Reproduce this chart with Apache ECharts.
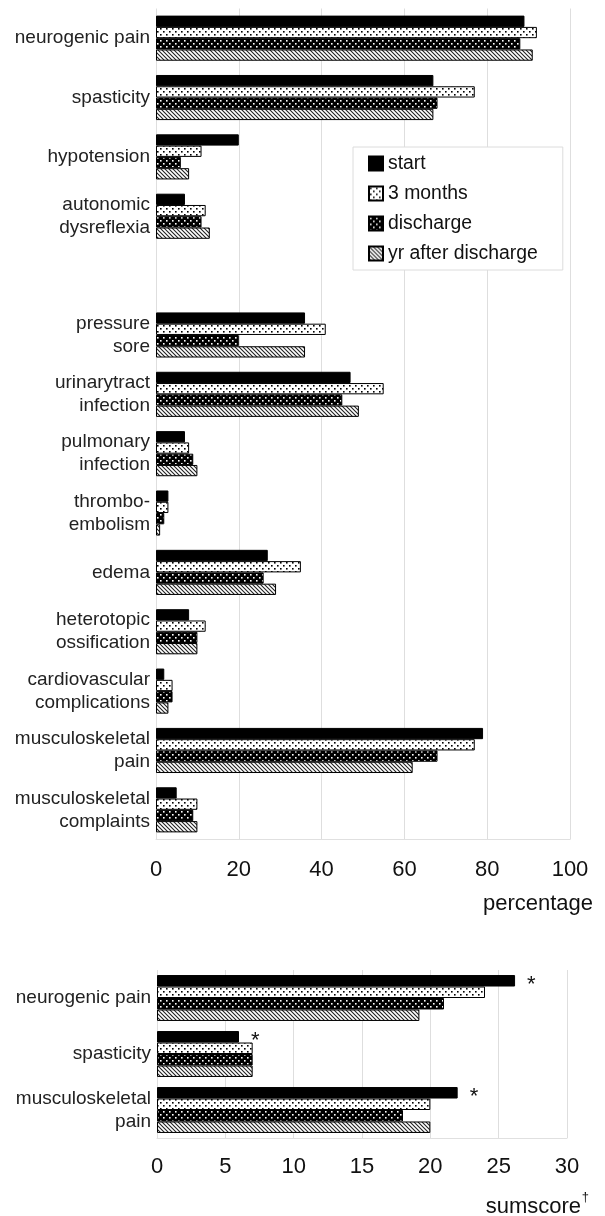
<!DOCTYPE html>
<html><head><meta charset="utf-8">
<script src="https://cdn.jsdelivr.net/npm/echarts@6/dist/echarts.min.js"></script>
<style>html,body{margin:0;padding:0;background:#fff}#c{width:605px;height:1216px}</style>
</head><body><div id="c"></div>
<script>
// ---- data ----
const topCategories = ['neurogenic pain','spasticity','hypotension','autonomic\ndysreflexia','',
  'pressure\nsore','urinarytract\ninfection','pulmonary\ninfection','thrombo-\nembolism','edema',
  'heterotopic\nossification','cardiovascular\ncomplications','musculoskeletal\npain','musculoskeletal\ncomplaints'];
const topStart     = [89, 67, 20, 7, null, 36, 47, 7, 3, 27, 8, 2, 79, 5];
const top3Months   = [92, 77, 11, 12, null, 41, 55, 8, 3, 35, 12, 4, 77, 10];
const topDischarge = [88, 68, 6, 11, null, 20, 45, 9, 2, 26, 10, 4, 68, 9];
const topYearAfter = [91, 67, 8, 13, null, 36, 49, 10, 1, 29, 10, 3, 62, 10];
const topTicks = [0, 20, 40, 60, 80, 100];

const botCategories = ['neurogenic pain','spasticity','musculoskeletal\npain'];
const botStart     = [26.2, 6, 22];
const bot3Months   = [24, 7, 20];
const botDischarge = [21, 7, 18];
const botYearAfter = [19.2, 7, 20];
const botTicks = [0, 5, 10, 15, 20, 25, 30];
const botMarks = ['*', '*', '*'];

const seriesNames = ['start', '3 months', 'discharge', 'yr after discharge'];

// ---- patterns ----
function dotPattern(bg, fg) {
  const c = document.createElement('canvas'); c.width = 6; c.height = 6;
  const g = c.getContext('2d');
  g.fillStyle = bg; g.fillRect(0, 0, 6, 6);
  g.fillStyle = fg;
  g.fillRect(1, 1, 1.6, 1.6); g.fillRect(4, 4, 1.6, 1.6);
  return {image: c, repeat: 'repeat'};
}
function hatchPattern() {
  const c = document.createElement('canvas'); c.width = 4; c.height = 4;
  const g = c.getContext('2d');
  g.fillStyle = '#fff'; g.fillRect(0, 0, 4, 4);
  g.strokeStyle = '#222'; g.lineWidth = 1.1;
  g.beginPath();
  g.moveTo(-1, -1); g.lineTo(5, 5);
  g.moveTo(3, -1); g.lineTo(5, 1);
  g.moveTo(-1, 3); g.lineTo(1, 5);
  g.stroke();
  return {image: c, repeat: 'repeat'};
}
const fills = ['#000', dotPattern('#fff', '#000'), dotPattern('#000', '#fff'), hatchPattern()];

const font = 'Liberation Sans, Arial, sans-serif';
const chart = echarts.init(document.getElementById('c'), null, {renderer: 'canvas'});

function mkSeries(gridIdx, datas, catGap, withMarks) {
  return datas.map((d, i) => ({
    name: seriesNames[i], type: 'bar', xAxisIndex: gridIdx, yAxisIndex: gridIdx,
    data: d, barGap: '0%', barCategoryGap: catGap,
    itemStyle: {color: fills[i], borderColor: '#000', borderWidth: 1},
    label: (withMarks && i === 0) ? {show: true, position: 'right', distance: 12,
      formatter: p => botMarks[p.dataIndex], fontSize: 22, fontFamily: font, color: '#111', offset: [0, 4]} : {show: false},
    silent: true, animation: false
  }));
}

const catLabel = {fontSize: 19, color: '#222', margin: 6, lineHeight: 23, align: 'right', fontFamily: font};

const option = {
  animation: false,
  textStyle: {fontFamily: font},
  legend: {
    data: seriesNames, orient: 'vertical', left: 353, top: 147,
    icon: 'rect',
    backgroundColor: '#fff', borderColor: '#dcdcdc', borderWidth: 1,
    padding: [7, 25, 7, 15], itemWidth: 14, itemHeight: 14, itemGap: 11,
    textStyle: {fontSize: 19.4, color: '#111', fontFamily: font},
    selectedMode: false, z: 10
  },
  grid: [
    {left: 156, right: 35, top: 8.5, height: 831},
    {left: 157, right: 38, top: 970, height: 168}
  ],
  xAxis: [
    {gridIndex: 0, type: 'value', min: topTicks[0], max: topTicks[topTicks.length - 1], interval: 20,
      axisLine: {show: true, lineStyle: {color: '#e0e0e0'}}, axisTick: {show: false},
      splitLine: {show: true, lineStyle: {color: '#dedede'}},
      axisLabel: {fontSize: 22, color: '#111', margin: 19, fontFamily: font}},
    {gridIndex: 1, type: 'value', min: botTicks[0], max: botTicks[botTicks.length - 1], interval: 5,
      axisLine: {show: true, lineStyle: {color: '#e0e0e0'}}, axisTick: {show: false},
      splitLine: {show: true, lineStyle: {color: '#dedede'}},
      axisLabel: {fontSize: 22, color: '#111', margin: 18, fontFamily: font}}
  ],
  yAxis: [
    {gridIndex: 0, type: 'category', data: topCategories, inverse: true,
      axisLine: {show: false}, axisTick: {show: false}, axisLabel: catLabel},
    {gridIndex: 1, type: 'category', data: botCategories, inverse: true,
      axisLine: {show: false}, axisTick: {show: false}, axisLabel: catLabel}
  ],
  graphic: [
    {type: 'text', right: 12, top: 893, style: {text: 'percentage', fontSize: 22, fill: '#111', fontFamily: font}},
    {type: 'text', right: 24, top: 1196, style: {text: 'sumscore', fontSize: 22, fill: '#111', fontFamily: font}},
    {type: 'text', right: 16, top: 1191, style: {text: '†', fontSize: 13, fill: '#111', fontFamily: font}}
  ],
  series: [
    ...mkSeries(0, [topStart, top3Months, topDischarge, topYearAfter], '24%', false),
    ...mkSeries(1, [botStart, bot3Months, botDischarge, botYearAfter], '18%', true)
  ]
};
chart.setOption(option);
</script></body></html>
